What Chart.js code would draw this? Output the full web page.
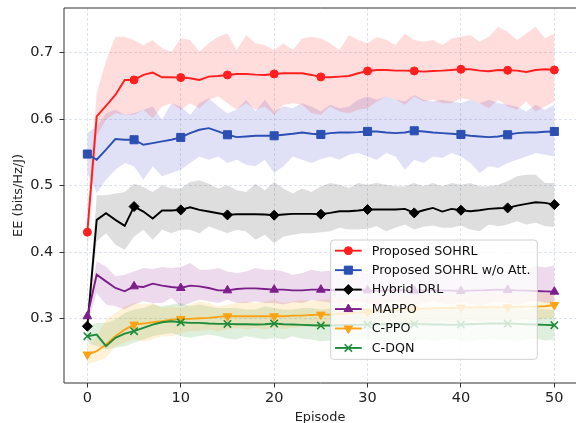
<!DOCTYPE html>
<html><head><meta charset="utf-8">
<script src="https://cdn.jsdelivr.net/npm/chart.js@4.4.1/dist/chart.umd.min.js"></script>
<style>
html,body{margin:0;padding:0;overflow:hidden;background:#fff;width:576px;height:423px}
canvas{display:block}
</style>
</head><body><canvas id="c" width="576" height="423"></canvas>
<script>
const episodes = Array.from({length: 51}, (_, i) => i);
const xTicks = [0, 10, 20, 30, 40, 50];
const yTicks = [0.3, 0.4, 0.5, 0.6, 0.7];
const labels = ['Proposed SOHRL', 'Proposed SOHRL w/o Att.', 'Hybrid DRL', 'MAPPO', 'C-PPO', 'C-DQN'];

const redMean = [0.430,0.604,0.620,0.6365,0.659,0.659,0.6665,0.670,0.663,0.663,
0.6625,0.6615,0.659,0.664,0.665,0.6665,0.668,0.668,0.667,0.6665,
0.668,0.669,0.669,0.669,0.6665,0.6635,0.663,0.664,0.665,0.669,
0.6725,0.674,0.674,0.673,0.673,0.6725,0.6715,0.6725,0.673,0.674,
0.675,0.675,0.673,0.672,0.674,0.6735,0.673,0.671,0.674,0.675,0.674];
const redUpper = [0.460,0.639,0.688,0.724,0.724,0.719,0.7115,0.719,0.7065,0.7015,
0.7215,0.719,0.7015,0.714,0.724,0.729,0.704,0.7265,0.714,0.7115,
0.704,0.714,0.704,0.7215,0.724,0.7215,0.714,0.704,0.7265,0.719,
0.714,0.724,0.719,0.7115,0.729,0.719,0.7165,0.719,0.7115,0.7215,
0.724,0.7265,0.7165,0.724,0.739,0.7315,0.719,0.729,0.739,0.7215,0.729];
const redLower = [0.400,0.575,0.599,0.609,0.6065,0.6065,0.614,0.6015,0.619,0.624,
0.614,0.624,0.6165,0.629,0.634,0.624,0.614,0.624,0.614,0.619,
0.6065,0.6215,0.624,0.6215,0.609,0.6065,0.619,0.6115,0.609,0.614,
0.6165,0.6265,0.634,0.629,0.6215,0.634,0.6265,0.629,0.624,0.624,
0.6315,0.629,0.624,0.6165,0.629,0.619,0.614,0.6265,0.6115,0.619,0.6265];

const blueMean = [0.5475,0.539,0.554,0.570,0.569,0.569,0.5615,0.564,0.5665,0.569,
0.5725,0.579,0.584,0.5865,0.5815,0.5765,0.573,0.574,0.575,0.575,
0.575,0.5765,0.578,0.580,0.578,0.577,0.579,0.580,0.580,0.5805,
0.5815,0.5815,0.580,0.579,0.580,0.5825,0.5815,0.580,0.579,0.578,
0.577,0.575,0.574,0.573,0.574,0.5765,0.579,0.580,0.580,0.581,0.5815];
const blueUpper = [0.579,0.589,0.609,0.614,0.6065,0.609,0.614,0.619,0.599,0.624,
0.619,0.6065,0.624,0.6315,0.619,0.609,0.614,0.629,0.6115,0.629,
0.6115,0.619,0.6165,0.624,0.619,0.6115,0.6215,0.6165,0.619,0.629,
0.634,0.629,0.634,0.629,0.6265,0.6365,0.629,0.6265,0.629,0.6265,
0.624,0.629,0.624,0.629,0.624,0.6215,0.619,0.6115,0.6215,0.614,0.6215];
const blueLower = [0.519,0.489,0.509,0.524,0.534,0.529,0.509,0.529,0.514,0.519,
0.524,0.534,0.544,0.539,0.544,0.534,0.539,0.5315,0.529,0.539,
0.519,0.529,0.544,0.539,0.534,0.540,0.544,0.539,0.5465,0.549,
0.544,0.539,0.549,0.544,0.524,0.539,0.534,0.544,0.5415,0.549,
0.544,0.534,0.519,0.529,0.5265,0.534,0.539,0.544,0.549,0.5465,0.544];

const hybridMean = [0.2885,0.4485,0.4585,0.4485,0.4395,0.4685,0.461,0.4505,0.4625,0.4625,
0.4635,0.4675,0.4635,0.461,0.4585,0.456,0.457,0.457,0.457,0.4565,
0.4555,0.4565,0.4575,0.4575,0.4575,0.457,0.459,0.4615,0.4615,0.4625,
0.464,0.464,0.464,0.464,0.465,0.459,0.463,0.4665,0.461,0.465,
0.463,0.4615,0.463,0.465,0.466,0.4665,0.470,0.4725,0.475,0.474,0.4715];
const hybridUpper = [0.300,0.4855,0.4855,0.488,0.4905,0.503,0.498,0.4905,0.5005,0.4955,
0.4955,0.5055,0.508,0.503,0.4955,0.5005,0.493,0.4905,0.503,0.493,
0.5055,0.4955,0.488,0.4955,0.4905,0.499,0.504,0.5015,0.4965,0.504,
0.5015,0.504,0.5015,0.499,0.499,0.504,0.499,0.504,0.499,0.504,
0.5015,0.504,0.499,0.499,0.5015,0.5065,0.514,0.5165,0.5165,0.504,0.504];
const hybridLower = [0.280,0.416,0.4285,0.411,0.4035,0.4235,0.4335,0.4185,0.4335,0.4285,
0.4335,0.4335,0.4285,0.4385,0.4335,0.4285,0.4335,0.431,0.4185,0.426,
0.4135,0.4235,0.426,0.4285,0.4285,0.430,0.4315,0.4365,0.434,0.434,
0.435,0.439,0.4315,0.4365,0.4415,0.434,0.438,0.440,0.4365,0.4365,
0.440,0.434,0.4315,0.4415,0.439,0.4415,0.4465,0.4415,0.444,0.439,0.438];

const mappoMean = [0.3035,0.366,0.356,0.346,0.341,0.3485,0.3475,0.3525,0.3495,0.3475,
0.346,0.3495,0.3485,0.346,0.3425,0.3425,0.3445,0.3455,0.3455,0.3445,
0.3435,0.3435,0.3425,0.3425,0.3435,0.3435,0.343,0.3425,0.343,0.3435,
0.3425,0.342,0.3425,0.343,0.3425,0.342,0.3425,0.343,0.3425,0.342,
0.3415,0.342,0.3425,0.343,0.3435,0.343,0.3425,0.342,0.3415,0.341,0.3405];
const mappoUpper = [0.315,0.386,0.3785,0.3635,0.366,0.371,0.376,0.3745,0.3775,0.376,
0.3775,0.3835,0.3735,0.3735,0.376,0.371,0.3685,0.371,0.376,0.3735,
0.3735,0.371,0.366,0.3685,0.3735,0.371,0.372,0.369,0.374,0.371,
0.368,0.373,0.376,0.370,0.372,0.375,0.369,0.371,0.374,0.370,
0.373,0.376,0.371,0.369,0.374,0.372,0.370,0.375,0.379,0.377,0.380];
const mappoLower = [0.290,0.3385,0.321,0.3185,0.3135,0.321,0.326,0.3235,0.3235,0.331,
0.3185,0.3235,0.3285,0.326,0.3235,0.3285,0.3235,0.3235,0.326,0.3235,
0.3235,0.321,0.3245,0.3235,0.3275,0.326,0.324,0.322,0.325,0.327,
0.323,0.321,0.324,0.326,0.322,0.320,0.324,0.327,0.323,0.321,
0.325,0.322,0.320,0.324,0.326,0.323,0.321,0.325,0.327,0.324,0.3255];

const cppoMean = [0.246,0.251,0.261,0.2735,0.2835,0.291,0.2925,0.2945,0.296,0.2985,
0.2995,0.2995,0.3005,0.301,0.3025,0.3035,0.3035,0.3035,0.3035,0.3035,
0.3035,0.3035,0.3045,0.3045,0.3055,0.306,0.306,0.307,0.308,0.309,
0.310,0.311,0.312,0.313,0.314,0.3145,0.315,0.3155,0.316,0.316,
0.3165,0.3165,0.317,0.317,0.317,0.317,0.3175,0.318,0.318,0.3185,0.3205];
const cppoUpper = [0.2585,0.2735,0.2985,0.3085,0.3185,0.3235,0.321,0.3235,0.316,0.3185,
0.316,0.321,0.326,0.3235,0.3185,0.321,0.3235,0.326,0.3235,0.326,
0.3285,0.3235,0.326,0.3285,0.326,0.3285,0.329,0.331,0.328,0.332,
0.334,0.331,0.333,0.336,0.334,0.335,0.338,0.336,0.334,0.337,
0.339,0.336,0.338,0.340,0.337,0.339,0.336,0.338,0.341,0.339,0.342];
const cppoLower = [0.231,0.236,0.241,0.2585,0.2635,0.2685,0.266,0.2685,0.2735,0.2735,
0.2785,0.281,0.281,0.2835,0.281,0.2835,0.286,0.2835,0.286,0.2835,
0.286,0.2845,0.286,0.2875,0.2885,0.286,0.288,0.287,0.289,0.290,
0.289,0.291,0.292,0.290,0.293,0.294,0.292,0.295,0.296,0.294,
0.296,0.297,0.295,0.297,0.298,0.296,0.298,0.299,0.297,0.300,0.301];

const cdqnMean = [0.2735,0.276,0.2585,0.271,0.2775,0.281,0.286,0.291,0.2945,0.296,
0.2945,0.2935,0.2935,0.2925,0.292,0.292,0.2915,0.2915,0.291,0.2915,
0.2925,0.2915,0.291,0.2905,0.290,0.2895,0.2895,0.290,0.2905,0.2905,
0.291,0.2915,0.2915,0.292,0.292,0.292,0.2915,0.291,0.291,0.2905,
0.291,0.2915,0.292,0.2925,0.2925,0.2925,0.292,0.2915,0.291,0.2905,0.290];
const cdqnUpper = [0.2885,0.2935,0.2935,0.2985,0.3085,0.3135,0.316,0.321,0.3185,0.321,
0.3235,0.3185,0.321,0.3185,0.316,0.316,0.316,0.3135,0.3135,0.3185,
0.316,0.3135,0.3135,0.316,0.316,0.3135,0.315,0.317,0.314,0.316,
0.318,0.315,0.313,0.316,0.318,0.315,0.317,0.314,0.316,0.318,
0.315,0.317,0.319,0.316,0.314,0.317,0.315,0.313,0.316,0.314,0.313];
const cdqnLower = [0.2635,0.2585,0.2535,0.256,0.2585,0.2635,0.2685,0.2735,0.276,0.2785,
0.2735,0.271,0.2735,0.276,0.2735,0.2695,0.2685,0.2735,0.271,0.2685,
0.271,0.2685,0.2735,0.2695,0.2685,0.266,0.267,0.269,0.266,0.268,
0.270,0.267,0.265,0.268,0.270,0.267,0.269,0.266,0.268,0.270,
0.267,0.265,0.268,0.270,0.267,0.269,0.266,0.268,0.270,0.267,0.268];

const FONT = 'DejaVu Sans';
const series = [
  {label: labels[0], mean: redMean, up: redUpper, lo: redLower, color: '#ff1f1f', band: 'rgba(255,30,30,0.15)', style: 'circle', r: 4.0, rot: 0},
  {label: labels[1], mean: blueMean, up: blueUpper, lo: blueLower, color: '#2c4fb4', band: 'rgba(60,60,200,0.16)', style: 'rect', r: 5.7, rot: 0},
  {label: labels[2], mean: hybridMean, up: hybridUpper, lo: hybridLower, color: '#000000', band: 'rgba(0,0,0,0.13)', style: 'rectRot', r: 5.0, rot: 0},
  {label: labels[3], mean: mappoMean, up: mappoUpper, lo: mappoLower, color: '#7d1f8b', band: 'rgba(128,0,128,0.14)', style: 'triangle', r: 5.0, rot: 0},
  {label: labels[4], mean: cppoMean, up: cppoUpper, lo: cppoLower, color: '#fca315', band: 'rgba(255,165,0,0.15)', style: 'triangle', r: 5.0, rot: 180},
  {label: labels[5], mean: cdqnMean, up: cdqnUpper, lo: cdqnLower, color: '#1f8b3b', band: 'rgba(0,128,0,0.13)', style: 'crossRot', r: 5.2, rot: 0}
];

const pts = arr => episodes.map((e, k) => ({x: e, y: arr[k]}));
const datasets = [];
series.forEach((s, i) => {
  datasets.push({label: '_up' + i, data: pts(s.up), borderWidth: 0, borderColor: 'rgba(0,0,0,0)', pointRadius: 0, fill: '+1', backgroundColor: s.band, order: 50});
  datasets.push({label: '_lo' + i, data: pts(s.lo), borderWidth: 0, borderColor: 'rgba(0,0,0,0)', pointRadius: 0, fill: false, order: 50});
});
series.forEach((s, i) => {
  datasets.push({
    label: s.label, data: pts(s.mean), borderColor: s.color, backgroundColor: s.color,
    borderWidth: 1.9, fill: false, pointStyle: s.style, pointRotation: s.rot,
    pointRadius: c => (c.dataIndex % 5 === 0 ? s.r : 0),
    pointBorderWidth: s.style === 'crossRot' ? 1.6 : 1,
    pointBackgroundColor: s.color, pointBorderColor: s.color, order: 6 - i
  });
});

function drawMarker(ctx, s, x, y) {
  const r = s.r;
  ctx.save();
  ctx.fillStyle = s.color; ctx.strokeStyle = s.color;
  ctx.lineWidth = s.style === 'crossRot' ? 1.6 : 1;
  ctx.beginPath();
  if (s.style === 'circle') {
    ctx.arc(x, y, r, 0, Math.PI * 2);
  } else if (s.style === 'rect') {
    const h = r * Math.SQRT1_2; ctx.rect(x - h, y - h, 2 * h, 2 * h);
  } else if (s.style === 'rectRot') {
    ctx.moveTo(x - r, y); ctx.lineTo(x, y - r); ctx.lineTo(x + r, y); ctx.lineTo(x, y + r); ctx.closePath();
  } else if (s.style === 'triangle') {
    let a = s.rot * Math.PI / 180;
    ctx.moveTo(x + Math.sin(a) * r, y - Math.cos(a) * r);
    a += 2 * Math.PI / 3; ctx.lineTo(x + Math.sin(a) * r, y - Math.cos(a) * r);
    a += 2 * Math.PI / 3; ctx.lineTo(x + Math.sin(a) * r, y - Math.cos(a) * r);
    ctx.closePath();
  } else if (s.style === 'crossRot') {
    const o = r * Math.SQRT1_2;
    ctx.moveTo(x - o, y - o); ctx.lineTo(x + o, y + o);
    ctx.moveTo(x - o, y + o); ctx.lineTo(x + o, y - o);
    ctx.stroke(); ctx.restore(); return;
  }
  ctx.fill(); ctx.stroke();
  ctx.restore();
}

const framePlugin = {
  id: 'frameAndLegend',
  afterDraw(chart) {
    const ctx = chart.ctx, a = chart.chartArea;
    ctx.save();
    ctx.strokeStyle = '#333'; ctx.lineWidth = 1;
    ctx.beginPath();
    ctx.moveTo(a.right + 2, a.top); ctx.lineTo(a.left, a.top); ctx.lineTo(a.left, a.bottom); ctx.lineTo(a.right + 2, a.bottom);
    ctx.stroke();
    const L = {x: 330.7, y: 240, w: 206.6, h: 119.3, row0: 250.7, dy: 19.45, hx0: 335, hx1: 361.7, tx: 371.7};
    ctx.beginPath();
    if (ctx.roundRect) ctx.roundRect(L.x, L.y, L.w, L.h, 3); else ctx.rect(L.x, L.y, L.w, L.h);
    ctx.fillStyle = 'rgba(255,255,255,0.8)'; ctx.fill();
    ctx.strokeStyle = '#d0d0d0'; ctx.lineWidth = 1; ctx.stroke();
    series.forEach((s, i) => {
      const y = L.row0 + i * L.dy;
      ctx.strokeStyle = s.color; ctx.lineWidth = 1.9;
      ctx.beginPath(); ctx.moveTo(L.hx0, y); ctx.lineTo(L.hx1, y); ctx.stroke();
      drawMarker(ctx, s, (L.hx0 + L.hx1) / 2, y);
      ctx.fillStyle = '#111'; ctx.font = '12.7px "' + FONT + '"';
      ctx.textBaseline = 'middle'; ctx.textAlign = 'left';
      ctx.fillText(s.label, L.tx, y + 0.5);
    });
    ctx.restore();
  }
};

const noPad = sc => { sc.paddingTop = 0; sc.paddingBottom = 0; sc.paddingLeft = 0; sc.paddingRight = 0; };
const gridColor = 'rgba(160,180,200,0.45)';
new Chart(document.getElementById('c'), {
  type: 'line',
  data: {datasets},
  plugins: [framePlugin],
  options: {
    responsive: false, animation: false, devicePixelRatio: 1,
    layout: {autoPadding: false, padding: {left: 0, top: 8, right: 0, bottom: 0}},
    plugins: {legend: {display: false}, tooltip: {enabled: false}, filler: {drawTime: 'beforeDatasetsDraw', propagate: false}},
    elements: {line: {tension: 0}},
    scales: {
      x: {
        type: 'linear', min: -2.5, max: 52.318,
        afterBuildTicks: sc => { sc.ticks = xTicks.map(v => ({value: v})); },
        afterFit: sc => { sc.height = 40; noPad(sc); },
        grid: {color: gridColor, lineWidth: 0.8, drawTicks: true, tickLength: 4.5, tickColor: '#333', tickWidth: 1, tickBorderDash: []},
        border: {display: false, dash: [3, 2]},
        ticks: {font: {family: FONT, size: 14.5}, color: '#222', padding: 2.3, maxRotation: 0, autoSkip: false, callback: v => String(v)},
        title: {display: true, text: 'Episode', font: {family: FONT, size: 12.9, lineHeight: 0.6}, color: '#222', padding: {top: 0, bottom: 1.5}}
      },
      y: {
        type: 'linear', min: 0.2031, max: 0.7672,
        afterBuildTicks: sc => { sc.ticks = yTicks.map(v => ({value: v})); },
        afterFit: sc => { sc.width = 64; noPad(sc); },
        grid: {color: gridColor, lineWidth: 0.8, drawTicks: true, tickLength: 4.5, tickColor: '#333', tickWidth: 1, tickBorderDash: []},
        border: {display: false, dash: [3, 2]},
        ticks: {font: {family: FONT, size: 14.5}, color: '#222', padding: 6.2, autoSkip: false, callback: v => Number(v).toFixed(1)},
        title: {display: true, text: 'EE (bits/Hz/J)', font: {family: FONT, size: 12.9}, color: '#222', padding: {top: 10.9, bottom: 0}}
      }
    }
  }
});
</script></body></html>
